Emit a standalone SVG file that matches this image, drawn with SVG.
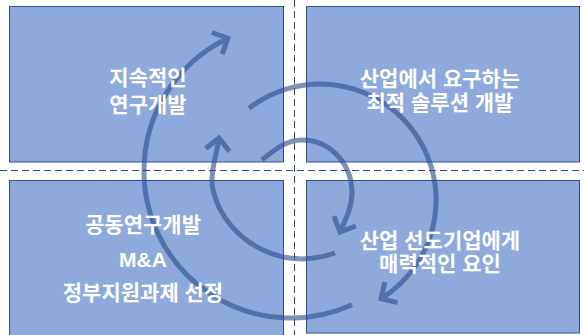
<svg xmlns="http://www.w3.org/2000/svg" width="584" height="335" viewBox="0 0 584 335">
<style>
.box{fill:#8eaadc;stroke:#2f528f;stroke-width:1}
.grid{stroke:#2f4a7a;stroke-width:1;stroke-dasharray:7 4;fill:none}
.lbl{font-family:"Liberation Sans","Noto Sans CJK KR",sans-serif;font-weight:bold;font-size:21px;fill:#ffffff;text-anchor:middle}
.arc{fill:none;stroke:#2b4f8e;stroke-width:5;marker-end:url(#ah)}
</style>
<defs>
<marker id="ah" markerUnits="userSpaceOnUse" viewBox="-20 -16 24 32" refX="0" refY="0" markerWidth="24" markerHeight="32" orient="auto" overflow="visible">
<path d="M -12 -12 L 0 0 L -12 12" fill="none" stroke="#2b4f8e" stroke-width="5"/>
</marker>
</defs>
<rect width="584" height="335" fill="#ffffff"/>
<g id="guides">
<line class="grid" x1="0" y1="170.5" x2="584" y2="170.5"/>
<line class="grid" x1="294.5" y1="0" x2="294.5" y2="335"/>
</g>
<g id="panels">
<rect id="node-tl-box" class="box" x="9.5" y="6.5" width="274" height="155.5"/>
<rect id="node-tr-box" class="box" x="306.5" y="6.5" width="273" height="155.5"/>
<rect id="node-bl-box" class="box" x="9.5" y="180.5" width="274" height="160"/>
<rect id="node-br-box" class="box" x="306.5" y="180.5" width="273" height="152.5"/>
</g>
<g id="connectors" opacity="0.62">
<path class="arc" d="M 352 304.8 A 147 147 0 0 1 144 171 A 147 147 0 0 1 227.9 38.2"/>
<path class="arc" d="M 249.1 108.2 A 116 116 0 0 1 408.9 125.4 A 116 116 0 0 1 381 298.7"/>
<path class="arc" d="M 335 253 C 310.6 261.8 286.5 261 263 250 C 238.6 238.5 218.9 216.3 213 190 C 209.3 173.4 216.9 154.8 219 138"/>
<path class="arc" d="M 262 160 C 274.3 149.8 286 140 302 140 C 330.6 140 352 164.4 352 193 C 352 207 345.7 219.3 340 232"/>
</g>
<g id="node-tl">
<text class="lbl" x="148" y="85">지속적인</text>
<text class="lbl" x="148" y="112">연구개발</text>
</g>
<g id="node-tr">
<text class="lbl" x="440" y="86">산업에서 요구하는</text>
<text class="lbl" x="440" y="110">최적 솔루션 개발</text>
</g>
<g id="node-bl">
<text class="lbl" x="143" y="232">공동연구개발</text>
<text class="lbl" x="143" y="267">M&amp;A</text>
<text class="lbl" x="143" y="300">정부지원과제 선정</text>
</g>
<g id="node-br">
<text class="lbl" x="440" y="248">산업 선도기업에게</text>
<text class="lbl" x="440" y="271">매력적인 요인</text>
</g>
</svg>
